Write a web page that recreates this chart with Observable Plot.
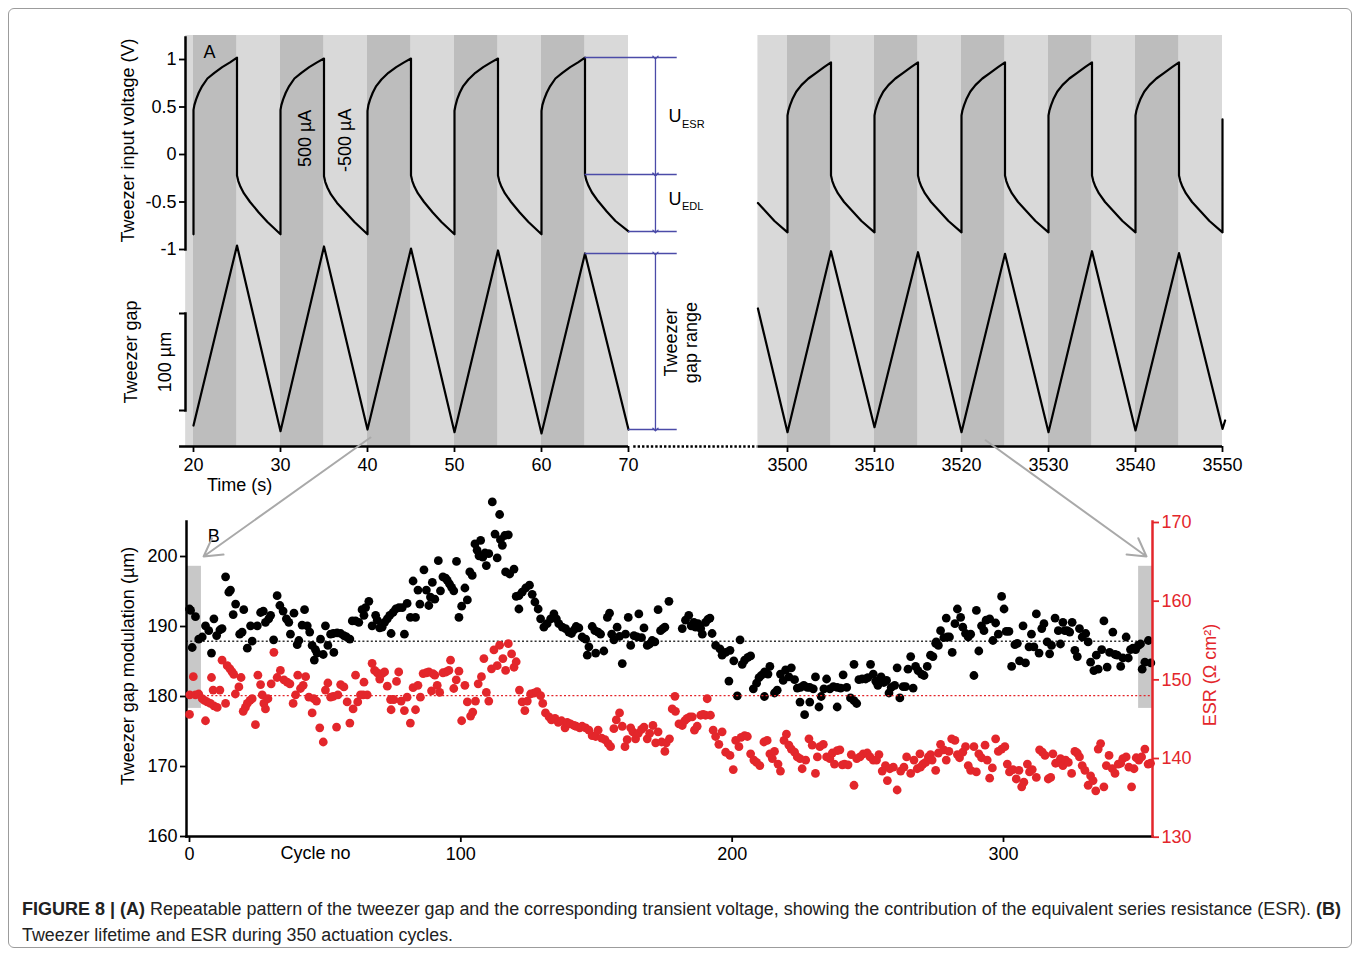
<!DOCTYPE html>
<html><head><meta charset="utf-8">
<script src="https://cdn.jsdelivr.net/npm/d3@7"></script>
<script src="https://cdn.jsdelivr.net/npm/@observablehq/plot@0.6"></script>
<style>
html,body{margin:0;padding:0;background:#fff;}
#fig{position:relative;width:1360px;height:953px;overflow:hidden;background:#fff;}
#border{position:absolute;left:8px;top:8px;width:1344px;height:940px;border:1px solid #9c9c9c;border-radius:6px;box-sizing:border-box;}
</style></head>
<body><div id="fig"><div id="border"></div></div>
<script>
// ---------------- DATA ----------------
// Panel A, bands: [start, end, shade]
const bandsLeft = [[19.1,20,"light"],[20,25,"dark"],[25,30,"light"],[30,35,"dark"],[35,40,"light"],[40,45,"dark"],[45,50,"light"],[50,55,"dark"],[55,60,"light"],[60,65,"dark"],[65,70,"light"]];
const bandsRight = [[3496.6,3500,"light"],[3500,3505,"dark"],[3505,3510,"light"],[3510,3515,"dark"],[3515,3520,"light"],[3520,3525,"dark"],[3525,3530,"light"],[3530,3535,"dark"],[3535,3540,"light"],[3540,3545,"dark"],[3545,3550,"light"]];
const timeTicksLeft = [20,30,40,50,60,70];
const timeTicksRight = [3500,3510,3520,3530,3540,3550];
const voltTicks = [-1,-0.5,0,0.5,1];

// Tweezer input voltage (V): [time s, V]
const voltLeft = [
[20,-0.84],[20,0.47],[20.1,0.52],[20.3,0.58],[20.6,0.65],[21,0.72],[21.6,0.8],[22.4,0.86],[23.3,0.92],[24.2,0.97],[25,1.02],
[25,-0.22],[25.15,-0.28],[25.4,-0.34],[25.8,-0.41],[26.5,-0.5],[27.5,-0.61],[28.5,-0.71],[30,-0.84],
[30,0.47],[30.1,0.52],[30.3,0.58],[30.6,0.65],[31,0.72],[31.6,0.8],[32.4,0.86],[33.3,0.92],[34.2,0.97],[35,1.01],
[35,-0.23],[35.15,-0.29],[35.4,-0.35],[35.8,-0.42],[36.5,-0.51],[37.5,-0.61],[38.5,-0.71],[40,-0.84],
[40,0.46],[40.1,0.52],[40.3,0.58],[40.6,0.65],[41,0.72],[41.6,0.79],[42.4,0.86],[43.3,0.92],[44.2,0.97],[45,1.01],
[45,-0.22],[45.15,-0.28],[45.4,-0.34],[45.8,-0.41],[46.5,-0.5],[47.5,-0.61],[48.5,-0.71],[50,-0.84],
[50,0.46],[50.1,0.51],[50.3,0.58],[50.6,0.65],[51,0.72],[51.6,0.79],[52.4,0.86],[53.3,0.92],[54.2,0.97],[55,1.01],
[55,-0.22],[55.15,-0.28],[55.4,-0.34],[55.8,-0.41],[56.5,-0.5],[57.5,-0.61],[58.5,-0.71],[60,-0.84],
[60,0.46],[60.1,0.52],[60.3,0.58],[60.6,0.65],[61,0.72],[61.6,0.8],[62.4,0.86],[63.3,0.92],[64.2,0.97],[65,1.02],
[65,-0.21],[65.15,-0.27],[65.4,-0.33],[65.8,-0.4],[66.5,-0.49],[67.5,-0.6],[68.5,-0.7],[70,-0.81]
];
const voltRight = [
[3496.6,-0.51],[3497.5,-0.6],[3498.5,-0.7],[3500,-0.82],
[3500,0.41],[3500.1,0.46],[3500.3,0.52],[3500.6,0.59],[3501,0.66],[3501.6,0.73],[3502.4,0.8],[3503.3,0.86],[3504.2,0.92],[3505,0.97],
[3505,-0.22],[3505.15,-0.28],[3505.4,-0.34],[3505.8,-0.41],[3506.5,-0.5],[3507.5,-0.6],[3508.5,-0.7],[3510,-0.82],
[3510,0.41],[3510.1,0.46],[3510.3,0.52],[3510.6,0.59],[3511,0.66],[3511.6,0.73],[3512.4,0.8],[3513.3,0.86],[3514.2,0.92],[3515,0.97],
[3515,-0.22],[3515.15,-0.28],[3515.4,-0.34],[3515.8,-0.41],[3516.5,-0.5],[3517.5,-0.6],[3518.5,-0.7],[3520,-0.82],
[3520,0.41],[3520.1,0.46],[3520.3,0.52],[3520.6,0.59],[3521,0.66],[3521.6,0.73],[3522.4,0.8],[3523.3,0.86],[3524.2,0.92],[3525,0.97],
[3525,-0.22],[3525.15,-0.28],[3525.4,-0.34],[3525.8,-0.41],[3526.5,-0.5],[3527.5,-0.6],[3528.5,-0.7],[3530,-0.82],
[3530,0.41],[3530.1,0.46],[3530.3,0.52],[3530.6,0.59],[3531,0.66],[3531.6,0.73],[3532.4,0.8],[3533.3,0.86],[3534.2,0.92],[3535,0.97],
[3535,-0.22],[3535.15,-0.28],[3535.4,-0.34],[3535.8,-0.41],[3536.5,-0.5],[3537.5,-0.6],[3538.5,-0.7],[3540,-0.82],
[3540,0.41],[3540.1,0.46],[3540.3,0.52],[3540.6,0.59],[3541,0.66],[3541.6,0.73],[3542.4,0.8],[3543.3,0.86],[3544.2,0.92],[3545,0.97],
[3545,-0.22],[3545.15,-0.28],[3545.4,-0.34],[3545.8,-0.41],[3546.5,-0.5],[3547.5,-0.6],[3548.5,-0.7],[3550,-0.82],[3550,0.37]
];
// Tweezer gap (µm, relative): [time s, gap]
const gapLeft = [[20,4.5],[25,190.1],[30,-1.3],[35,189.1],[40,0.4],[45,187],[50,-2.4],[55,185],[60,-3.7],[65,181.9],[70,0.4]];
const gapRight = [[3496.6,125.2],[3500,-2.4],[3505,184.2],[3510,2.8],[3515,183.2],[3520,-2.4],[3525,181.5],[3530,-2.4],[3535,184.2],[3540,-0.6],[3545,182.2],[3550,1.1],[3550.3,9.7]];
const gapScaleBar = [20,120];
// Annotation levels: [t start, t end, value]
const uLines = [[65,75.6,1.02],[65,75.6,-0.21],[70,75.6,-0.81]];
const gapRangeLines = [[65,75.6,181.9],[70,75.6,0.4]];

// Panel B
const cycleTicks = [0,100,200,300];
const gapModTicks = [160,170,180,190,200];
const esrTicks = [130,140,150,160,170];
const gapModMean = 187.9;
const esrMean = 148;
// [cycle, µm]
const gapModulation = [
[0,192.5],[0.4,192.3],[1,187.0],[2.2,191.4],[3.4,188.2],[4.7,188.5],[5.9,190.1],[7.1,189.4],[8.1,186.2],[9,191.1],[10,188.7],[11.2,189.5],[12,189.7],[13.3,197.1],[14.5,194.9],[15.1,195.2],[16.1,191.7],[17,193.2],[18.5,188.9],[19.4,189.2],[20,192.4],[21.3,186.9],[22.5,190.1],[23.1,187.9],[25,190.1],[26.2,192],[27.2,192.2],[28,190.6],[29.2,191.1],[29.9,191.6],[31,188.1],[32.3,194.4],[33.3,193],[34.5,192.2],[35.7,191.1],[36.6,190.6],[37.2,188.9],[38.5,191.9],[39.7,187.4],[40.3,188],[41.5,190.2],[42.4,192.4],[43.4,190.1],[44.3,189.2],[45.2,187.3],[46,185.2],[46.4,186.7],[47,186.2],[48.3,188.2],[49.3,186],[50.1,190.1],[51,187.3],[52,188.9],[53,189],[53.2,186.3],[54.4,189.1],[55.7,189],[56.9,188.7],[57.9,188.5],[59.1,188.2],[60,190.8],[61.2,190.8],[62.4,190.6],[63.6,192.4],[64.3,191.6],[64.9,192.7],[66.1,193.6],[67.3,190.1],[68.6,191.6],[69.2,190.9],[70.1,189.8],[71,189.9],[71.9,190.6],[72.9,191.1],[73.8,191.6],[74.3,189],[75,192],[76,192.5],[77.2,192.7],[78.4,192.7],[79.2,188.9],[80.2,193.3],[81.4,191.3],[82.4,196.5],[83.3,191.3],[84.2,195.2],[84.9,193.2],[86.4,198.1],[87.3,195.2],[88.2,193],
[88.8,194.2],[89.5,196.3],[90.4,193.9],[91.7,199.4],[92.5,195.1],[93.4,197.1],[94.4,196.9],[95,196.6],[95.8,196.1],[96.6,195.6],[97.4,195.1],[98.4,199.3],[99.3,191.3],[100.3,192.9],[101.5,195.5],[102.4,193.8],[103.3,197.8],[104.2,197.3],[105.2,201.8],[106,200.9],[106.7,200.1],[107.3,202.3],[108.1,199.9],[108.9,200.5],[109.4,198.7],[110.3,200.4],[111.6,207.8],[112.6,203.2],[113.4,199.8],[114.3,206],[114.6,202.4],[115.3,201.6],[116.2,203],[116.5,197.8],[117.5,203.1],[118,197.5],[119.6,198.2],[120.4,194.3],[121.4,194.4],[121.4,192.5],[122.6,194.9],[123.9,195.5],[125.3,195.9],[126.3,194.6],[127.3,193.5],[128.5,192.5],[129.4,191.1],[130.6,189.9],[131.8,190.4],[133.1,191.1],[134.3,191.8],[135.2,191.1],[136.1,190.4],[137.4,189.9],[138.6,189.7],[139.8,189.2],[140.8,189],[141.7,189.5],[142.5,190],[143.5,189.8],[144.7,188.5],[146,188.2],[146.6,185.9],[147.2,187.1],[148.4,190],[149.4,189.4],[149.7,186.2],[150.6,189.2],[151.5,188.9],[152.7,186.5],[154,191.3],[154.8,191.9],[155.6,188.9],[156.4,188.1],[157.6,189.9],[158.5,188.6],[159.5,184.7],[160.7,188.9],[161.7,191.3],[162.6,187.3],[163.8,188.7],[165,188.5],[165.6,191.8],[166.6,188.4],[167.5,189.8],[168.7,187.3],[169.6,187.5],[170.5,188],[171.5,187.8],[172.7,192.4],[173.6,189.4],[174.5,189.7],[175.2,189.9],[176.7,193.6],
[181.6,189.7],[182.8,190.9],[184,191.6],[184.9,190.1],[185.9,190.6],[186.5,189.9],[187.4,190.4],[188.4,189.7],[189,188.9],[190.2,190.6],[191,191],[191.8,191.2],[192.6,189],[193.9,187.3],[195.5,186.8],[196.3,185.9],[197.6,186.3],[198.8,182.2],[199.2,186.6],[200.6,185.1],[201.9,180.1],[202.9,188.1],[203.7,184.6],[204.6,185.2],[205.8,185.6],[206.8,185.8],[207.8,181.1],[209,181.9],[209.9,182.7],[210.7,183],[211.9,183.5],[211.9,180],[213.2,183.2],[213.9,184.3],[215.6,180.5],[216.6,180.9],[217.8,183.2],[218.8,182.3],[219.7,183.8],[220.9,182.8],[221.8,184.1],[223,182.4],[224,181.2],[225,179.2],[225.2,181.3],[226.4,181.6],[226.7,177.4],[227.7,181.3],[228.6,181.3],[228.6,179.2],[229.9,181.1],[230.7,182.8],[232,178.5],[232.8,180],[233.8,181.1],[234.8,182.5],[236,181.1],[237.3,181.4],[238.7,181.3],[238.7,178.5],[240,181.2],[240.9,183.1],[242.2,181.3],[243.6,179.8],[244.9,179.4],[244.9,184.6],[245.9,179],[246.7,182.4],[247.9,182.5],[249.2,182.5],[250,182.7],[251,184.6],[252,183.2],[252.9,182.2],[253.7,181.6],[254.9,182.8],[255.9,182],[256.9,182.3],[257.8,180.5],[258.6,181.3],[259.9,181.6],[260.8,184.1],[261.8,179.8],[263,181.4],[263.9,181.4],[264.8,183.9],[265.8,185.7],[266.7,181.2],[267.6,184.3],[268.5,183.7],
[269.8,183.2],[270.7,183],[271.9,184.3],[273.1,185.9],[274,185.7],[275,187.6],[275.2,187.8],[276,187.3],[276.8,189.4],[278,188.4],[278.9,191.2],[279.3,188.5],[280.1,188.5],[281.1,186.3],[282.1,190.4],[283,192.5],[284.2,191.3],[285,189.9],[286,189],[287,188.5],[287.9,188.9],[289.1,183],[290,192.3],[290.9,186.5],[291.9,190.1],[292.8,189.4],[293.6,190.9],[294.9,191.1],[296.1,188],[297.1,190.5],[298.1,188.9],[299.3,194.3],[300.2,192.5],[301,189.3],[302,189.3],[303,184.3],[304.2,187.4],[305.1,187.6],[305.9,185.1],[307.2,190.1],[308.1,184.8],[309.4,187.1],[310.3,188.9],[311.2,187.1],[312.1,191.8],[313.1,186.2],[314.1,189.7],[314.9,190.4],[316.1,187.8],[317,186.1],[317.7,187.3],[319,191.2],[320.2,189.4],[321,187.5],[321.9,190.6],[322.6,189.4],[323.5,189.4],[324.4,189.2],[325.3,190.6],[326.3,186.6],[327.2,185.7],[328,189.7],[329,188.5],[330.3,189],[331.2,187.8],[332.1,184.9],[333.3,183.7],[334.2,185.9],[334.9,183.9],[336.2,186.7],[337,190.8],[338.2,184.2],[339.1,186.3],[340.3,189.2],[341.1,186],[341.9,185.9],[343.2,184.3],[344,185.5],[345.2,188.5],[346,185.5],[346.8,186.7],[347.7,186.9],[348.7,186.7],[349.7,187.3],[350.5,187.5],[351.1,183.9],[352.1,184.9],[353.4,188],[354.3,184.8]
];
// [cycle, ESR Ω cm²]
const esr = [
[0,145.6],[0.1,148.1],[1.4,150.4],[2.2,148.1],[3.4,148.2],[4.7,147.6],[5.5,147.4],[5.9,144.8],[6.5,147.2],[7.7,147],[8.1,150.3],[8.7,148.7],[9,146.7],[10.2,146.5],[11.2,148.7],[12,152.5],[13.3,147],[13.9,151.8],[14.9,151.4],[15.7,151],[16.3,150.7],[16.9,148.2],[18.2,149.1],[19,150.3],[19.8,146],[20.6,146.5],[21.3,147],[22.3,147.4],[23.1,147.6],[24.3,144.3],[25.2,150.6],[26.2,149.4],[26.8,148.1],[27.4,147],[28,146.3],[28.9,147.6],[30.1,149.5],[31.1,153.5],[32.3,150.3],[33.5,151.2],[34.8,150],[36,149.7],[37,149.5],[38.2,147],[39.1,148.1],[39.9,150.6],[40.9,148.9],[41.9,149.3],[42.8,150.4],[44,147.8],[45.2,145.8],[45.8,147.6],[46.8,147.3],[48,143.9],[49.3,142.1],[50.1,148.7],[51,149.6],[52,147.8],[53,147.9],[54.2,144],[54.7,148.1],[55.7,149.4],[56.9,149.1],[58.1,147.2],[59.1,144.5],[60.3,146.3],[61.2,150.6],[62,147.2],[63,148.1],[64,148.1],[64.3,149.7],[65.5,148.1],[67.3,152.1],[68.2,151.2],[69.2,150.9],[70.1,150.1],[71,150.8],[71.9,151],[72.9,149.2],[74.1,147.5],[74.3,146.2],[75.3,147.5],[76.3,149.8],[77.1,151],[78,147.3],[79.2,146.1],[80.2,147.8],[81.4,144.5],[82.4,149],[83.3,146.2],[84.2,149.3],[85.1,147.8],[86.1,150.8],[87.3,150.9],
[88.2,151],[89.2,148.6],[89.7,150.8],[90.4,150.6],[91.3,149.3],[92.2,148.4],[93.4,150.9],[94.6,151],[95.6,151.2],[96.2,152.5],[97.4,148.9],[98.3,150],[99.3,151.1],[100.3,144.8],[101.5,149.3],[102.4,147.2],[103.6,145.4],[104.4,145.9],[105.4,147.3],[106.4,149.5],[107.6,150.4],[108.5,152.7],[109.4,148.4],[110.3,147.3],[111.3,151.4],[112.2,153.8],[113.4,151.8],[114.3,154.4],[115.5,152.7],[116.5,151.2],[117.5,154.6],[118.7,153.3],[119.6,151.6],[120.4,152.3],[121.6,148.7],[122.6,147.2],[123.6,146.1],[124.5,147.3],[125.7,148.2],[126.9,148.3],[128.1,148.5],[129.4,148],[130.2,147],[131.2,145.8],[132.5,145.3],[133.4,144.9],[134.7,145.1],[135.9,144.6],[137.1,144.8],[138.4,143.9],[139.2,144.6],[140.4,144.4],[141.7,144.2],[142.5,144.1],[143.8,143.9],[144.7,144.1],[146,143.9],[147.2,143.6],[148.4,142.9],[149.7,142.8],[150.6,143.6],[151.9,142.6],[153.1,142.4],[154.3,141.9],[155.2,141.5],[156.4,143.8],[157.3,144.9],[158.5,145.8],[159.5,144.1],[160.5,141.5],[161.3,142.4],[162.6,143.9],[163.4,143.4],[164.4,142.5],[165.4,143.2],[166.6,143.7],[167.5,144],[168.7,142.5],[169.6,143.2],[170.8,144.2],[171.8,142],[172.7,143.4],[174,142.1],[175.2,140.9],[175.7,142],[176.9,142.5],[177.9,146.3],[178.9,147.9],
[179.1,146],[180.4,144.4],[181.6,144.2],[182.5,144.8],[183.4,145.1],[184.4,145.3],[185.3,145.3],[186.1,143.6],[187.1,144.1],[188.4,145.5],[189.3,145.6],[190.2,145.5],[190.8,147.6],[192,145.5],[193,143.6],[193.9,142.8],[195.1,141.8],[196.3,143.4],[197.6,140.8],[199.2,140.4],[200.4,138.6],[201.3,142.3],[202.5,141.5],[203.3,142.7],[204.6,142.9],[205.6,142.8],[206.8,140.6],[208,139.8],[209,139.5],[210.2,139.1],[211.7,142.1],[212.9,142.3],[213.9,140.6],[214.8,140],[215.6,140.9],[216.9,139.3],[217.8,138.4],[219.1,142.3],[220,143.1],[220.9,141.7],[221.8,141.2],[223,140.8],[224,140.2],[225,140],[225.8,138.7],[227.1,139.8],[228.3,142.5],[229.5,141.7],[230.7,138.1],[231.4,140.2],[232.3,141.5],[233.6,141.8],[234.8,140.2],[236,140],[236.9,140.7],[237.7,139.3],[238.7,141],[239.7,141.1],[240.6,139.2],[241.4,139.3],[242.7,139.2],[243.9,140.5],[244.9,136.6],[245.9,140],[247.1,140.2],[248.3,140.6],[249.8,140.7],[250.8,140.2],[252,139.8],[253.2,139.8],[254.1,140.5],[255.3,138.4],[256.5,139.1],[257.2,137.2],[258.1,138.7],[259.4,138.9],[260.8,136],[262.1,138.4],[263.3,138.9],[264.3,140.2],[265.8,138.1],[267,139.8],[268.2,138.7],[269.2,140.6],
[269.4,138.9],[270.3,139.3],[271.3,139.5],[272.3,140.2],[273.1,140.5],[273.7,139.8],[275,138.5],[276,140.7],[276.8,141.8],[278,141.1],[278.9,139.8],[279.9,140.9],[280.9,142.5],[282.1,142.3],[283,140.5],[283.8,140.1],[285,140.8],[286,141.5],[287,139.1],[287.9,138.5],[289.1,141.5],[290,138.3],[290.9,140.6],[291.9,140.1],[293.2,141.7],[294,139.8],[294.9,137.5],[295.9,138.8],[297.1,142.5],[298.1,140.9],[299.3,141.2],[300.5,141.5],[301.4,139.3],[302.2,138.3],[303.5,138.6],[304.7,137.4],[305.7,138.5],[306.7,136.4],[307.5,137],[308.8,139.3],[309.6,138.3],[310.6,138.6],[312.1,137.6],[313.3,141.1],[314.3,140.8],[315.3,140.4],[316.5,137.4],[317.4,137.6],[318.2,140.6],[319.2,139.4],[320.2,139.5],[321,140],[321.9,139.1],[322.9,139.8],[323.9,139.5],[325.1,138.1],[326.3,140.9],[327.2,140.7],[328,140.2],[329,139.1],[330,138.5],[331.2,136.6],[332.1,137.8],[333,137.2],[334,135.9],[334.9,141.2],[335.8,141.9],[337,136.4],[337.9,139.1],[338.9,140.4],[340.1,138.7],[341.1,138.1],[342.3,139.3],[343.2,139.4],[344,140],[345.2,140.2],[346.2,138.9],[347.2,136.4],[348.1,138.7],[348.9,140.1],[349.9,139.8],[350.9,140.2],[352.1,141.2],[353.3,139.3],[354.2,139.4]
];
// highlighted cycle windows: [cycle start, cycle end, µm low, µm high]
const windows = [[-1.1,4.4,178.3,198.6],[349.8,355,178.3,198.6]];
// connectors from panel A to panel B: [x1, y1, x2, y2] in panel-B units
const connectors = [[66.7,217,5.2,200],[293.4,216.6,352.7,200]];

// ---------------- STYLE / LAYOUT ----------------
const W = 1360, H = 880;
const FONT = "'Liberation Sans', Arial, Helvetica, sans-serif";
const DARK = "#bdbdbd", LIGHT = "#d9d9d9", RED = "#e3262b", BLUE = "#4b4ba8", GREY = "#a9a9a9";
const fig = document.getElementById("fig");
function layer(opts) {
  const svg = Plot.plot(Object.assign({
    width: W, height: H,
    style: {background: "transparent", fontFamily: FONT, fontSize: "18px", color: "#000", overflow: "visible"}
  }, opts));
  svg.style.position = "absolute"; svg.style.left = "0px"; svg.style.top = "0px";
  fig.appendChild(svg);
}
const X = d => d[0], Y = d => d[1];
const xL = {domain: [20, 70], range: [193, 628]};
const xR = {domain: [3500, 3550], range: [787, 1222]};
const yV = {domain: [-1, 1], range: [249, 59]};
const yG = {domain: [20, 120], range: [410, 313]};
const yU = {domain: [0, 1], range: [446, 35]};
const title = {rotate: -90, fontSize: 18, textAnchor: "middle", lineAnchor: "middle"};

// ----- time axis + bands, left -----
layer({
  x: xL, y: {...yU, axis: null},
  marginTop: 35, marginBottom: H - 446, marginLeft: 180, marginRight: W - 628,
  marks: [
    Plot.rect(bandsLeft.filter(d => d[2] === "light"), {x1: X, x2: Y, fill: LIGHT}),
    Plot.rect(bandsLeft.filter(d => d[2] === "dark"), {x1: X, x2: Y, fill: DARK}),
    Plot.ruleY([0], {x1: 18.4, x2: 70, stroke: "#000", strokeWidth: 2.5}),
    Plot.ruleY([0], {x1: 70.6, x2: 84.8, stroke: "#000", strokeWidth: 2.5, strokeDasharray: "2.4,2"}),
    Plot.axisX({ticks: timeTicksLeft, tickFormat: d => String(d), tickSize: 6, tickPadding: 6, strokeWidth: 1.8, fontSize: 18, label: null}),
    Plot.text(["Time (s)"], {x: () => 25.3, frameAnchor: "bottom", dy: 39, fontSize: 18, lineAnchor: "middle"})
  ]
});
// ----- time axis + bands, right -----
layer({
  x: xR, y: {...yU, axis: null},
  marginTop: 35, marginBottom: H - 446, marginLeft: 757, marginRight: W - 1224,
  marks: [
    Plot.rect(bandsRight.filter(d => d[2] === "light"), {x1: X, x2: Y, fill: LIGHT}),
    Plot.rect(bandsRight.filter(d => d[2] === "dark"), {x1: X, x2: Y, fill: DARK}),
    Plot.ruleY([0], {x1: 3496.6, x2: 3550, stroke: "#000", strokeWidth: 2.5}),
    Plot.axisX({ticks: timeTicksRight, tickFormat: d => String(d), tickSize: 6, tickPadding: 6, strokeWidth: 1.8, fontSize: 18, label: null})
  ]
});
// ----- voltage, left -----
layer({
  x: {...xL, axis: null}, y: yV,
  marginTop: 37, marginBottom: H - 249, marginLeft: 185, marginRight: W - 628,
  marks: [
    Plot.frame({anchor: "left", strokeWidth: 2.5}),
    Plot.axisY({ticks: voltTicks, tickFormat: d => String(d), tickSize: 6, tickPadding: 3, strokeWidth: 1.8, fontSize: 18, label: null}),
    Plot.line(voltLeft, {x: X, y: Y, stroke: "#000", strokeWidth: 2.2}),
    Plot.text(["Tweezer input voltage (V)"], {...title, frameAnchor: "left", dx: -57, dy: -3}),
    Plot.text(["A"], {x: () => 21.85, y: () => 1.08, fontSize: 18}),
    Plot.text(["500 µA"], {x: () => 32.9, y: () => 0.17, rotate: -90, fontSize: 18}),
    Plot.text(["-500 µA"], {x: () => 37.4, y: () => 0.15, rotate: -90, fontSize: 18}),
    Plot.ruleY(uLines, {x1: d => d[0], x2: d => d[1], y: d => d[2], stroke: BLUE, strokeWidth: 1.5}),
    Plot.link([[uLines[0][2], uLines[1][2]], [uLines[1][2], uLines[2][2]]], {x1: () => 73.1, x2: () => 73.1, y1: X, y2: Y, stroke: BLUE, strokeWidth: 1.3, markerStart: "arrow", markerEnd: "arrow"}),
    Plot.text(["U"], {x: () => 74.6, y: () => 0.4, fontSize: 18, textAnchor: "start"}),
    Plot.text(["ESR"], {x: () => 76.15, y: () => 0.32, fontSize: 11, textAnchor: "start"}),
    Plot.text(["U"], {x: () => 74.6, y: () => -0.47, fontSize: 18, textAnchor: "start"}),
    Plot.text(["EDL"], {x: () => 76.15, y: () => -0.55, fontSize: 11, textAnchor: "start"})
  ]
});
// ----- voltage, right -----
layer({
  x: {...xR, axis: null}, y: {...yV, axis: null},
  marks: [Plot.line(voltRight, {x: X, y: Y, stroke: "#000", strokeWidth: 2.2})]
});
// ----- gap, left -----
layer({
  x: {...xL, axis: null}, y: yG,
  marginTop: 313, marginBottom: H - 410, marginLeft: 185, marginRight: W - 628,
  marks: [
    Plot.frame({anchor: "left", strokeWidth: 2.5}),
    Plot.axisY({ticks: gapScaleBar, tickFormat: () => "", tickSize: 6, strokeWidth: 2, label: null}),
    Plot.line(gapLeft, {x: X, y: Y, stroke: "#000", strokeWidth: 2.2}),
    Plot.text(["Tweezer gap"], {...title, frameAnchor: "left", dx: -54, dy: -10}),
    Plot.text(["100 µm"], {...title, frameAnchor: "left", dx: -20}),
    Plot.ruleY(gapRangeLines, {x1: d => d[0], x2: d => d[1], y: d => d[2], stroke: BLUE, strokeWidth: 1.5}),
    Plot.link([[gapRangeLines[0][2], gapRangeLines[1][2]]], {x1: () => 73.1, x2: () => 73.1, y1: X, y2: Y, stroke: BLUE, strokeWidth: 1.3, markerStart: "arrow", markerEnd: "arrow"}),
    Plot.text(["Tweezer\ngap range"], {x: () => 76, y: () => 90, rotate: -90, fontSize: 18, lineHeight: 1.1})
  ]
});
// ----- gap, right -----
layer({
  x: {...xR, axis: null}, y: {...yG, axis: null},
  marks: [Plot.line(gapRight, {x: X, y: Y, stroke: "#000", strokeWidth: 2.2})]
});
// ----- panel B, left axis (gap modulation) -----
const xB = {domain: [0, 300], range: [189, 1003]};
layer({
  x: xB, y: {domain: [160, 200], range: [836, 556]},
  marginTop: 521, marginBottom: H - 836, marginLeft: 186, marginRight: W - 1152,
  marks: [
    Plot.rect(windows, {x1: d => d[0], x2: d => d[1], y1: d => d[2], y2: d => d[3], fill: "#c8c8c8"}),
    Plot.ruleY([gapModMean], {stroke: "#333", strokeWidth: 1.6, strokeDasharray: "2,2.2"}),
    Plot.dot(gapModulation, {x: X, y: Y, r: 4.4, fill: "#000", stroke: null}),
    Plot.frame({anchor: "left", strokeWidth: 2.5}),
    Plot.frame({anchor: "bottom", strokeWidth: 2.5}),
    Plot.axisY({ticks: gapModTicks, tickFormat: d => String(d), tickSize: 6, tickPadding: 3, strokeWidth: 1.8, fontSize: 18, label: null}),
    Plot.axisX({ticks: cycleTicks, tickFormat: d => String(d), tickSize: 6, tickPadding: 5, strokeWidth: 1.8, fontSize: 18, label: null}),
    Plot.text(["Cycle no"], {x: () => 46.4, frameAnchor: "bottom", dy: 17, fontSize: 18, lineAnchor: "middle"}),
    Plot.text(["Tweezer gap modulation (µm)"], {...title, frameAnchor: "left", dx: -58, dy: -13}),
    Plot.text(["B"], {x: () => 8.9, y: () => 202.9, fontSize: 18}),
    Plot.arrow(connectors, {x1: d => d[0], y1: d => d[1], x2: d => d[2], y2: d => d[3], stroke: GREY, strokeWidth: 2, headLength: 15})
  ]
});
// ----- panel B, right axis (ESR) -----
layer({
  x: {...xB, axis: null}, y: {domain: [130, 170], range: [836.7, 522]},
  marginTop: 521, marginBottom: H - 836, marginLeft: 186, marginRight: W - 1152,
  marks: [
    Plot.ruleY([esrMean], {stroke: RED, strokeWidth: 1.4, strokeDasharray: "2,2.2"}),
    Plot.dot(esr, {x: X, y: Y, r: 4.4, fill: RED, stroke: null}),
    Plot.frame({anchor: "right", stroke: RED, strokeWidth: 2.5}),
    Plot.axisY({anchor: "right", ticks: esrTicks, tickFormat: d => String(d), tickSize: 6, tickPadding: 3, strokeWidth: 1.8, fontSize: 18, color: RED, label: null}),
    Plot.text(["ESR (Ω cm²)"], {...title, frameAnchor: "right", dx: 58, dy: -4, fill: RED})
  ]
});

// ----- caption -----
const cap = d3.create("svg").attr("width", W).attr("height", 60)
  .style("position", "absolute").style("left", "0px").style("top", "890px")
  .style("font-family", "'Liberation Sans Narrow', 'Liberation Sans', Arial, sans-serif").style("font-size", "18px");
const capText = (x, y, len, str, bold) => cap.append("text").attr("x", x).attr("y", y)
  .attr("textLength", len).attr("lengthAdjust", "spacingAndGlyphs").attr("fill", "#222")
  .attr("font-weight", bold ? "bold" : null).text(str);
capText(22, 25, 123, "FIGURE 8 | (A)", true);
capText(150, 25, 1161, "Repeatable pattern of the tweezer gap and the corresponding transient voltage, showing the contribution of the equivalent series resistance (ESR).", false);
capText(1316, 25, 25, "(B)", true);
capText(22, 51, 431, "Tweezer lifetime and ESR during 350 actuation cycles.", false);
fig.appendChild(cap.node());
</script>
</body></html>
